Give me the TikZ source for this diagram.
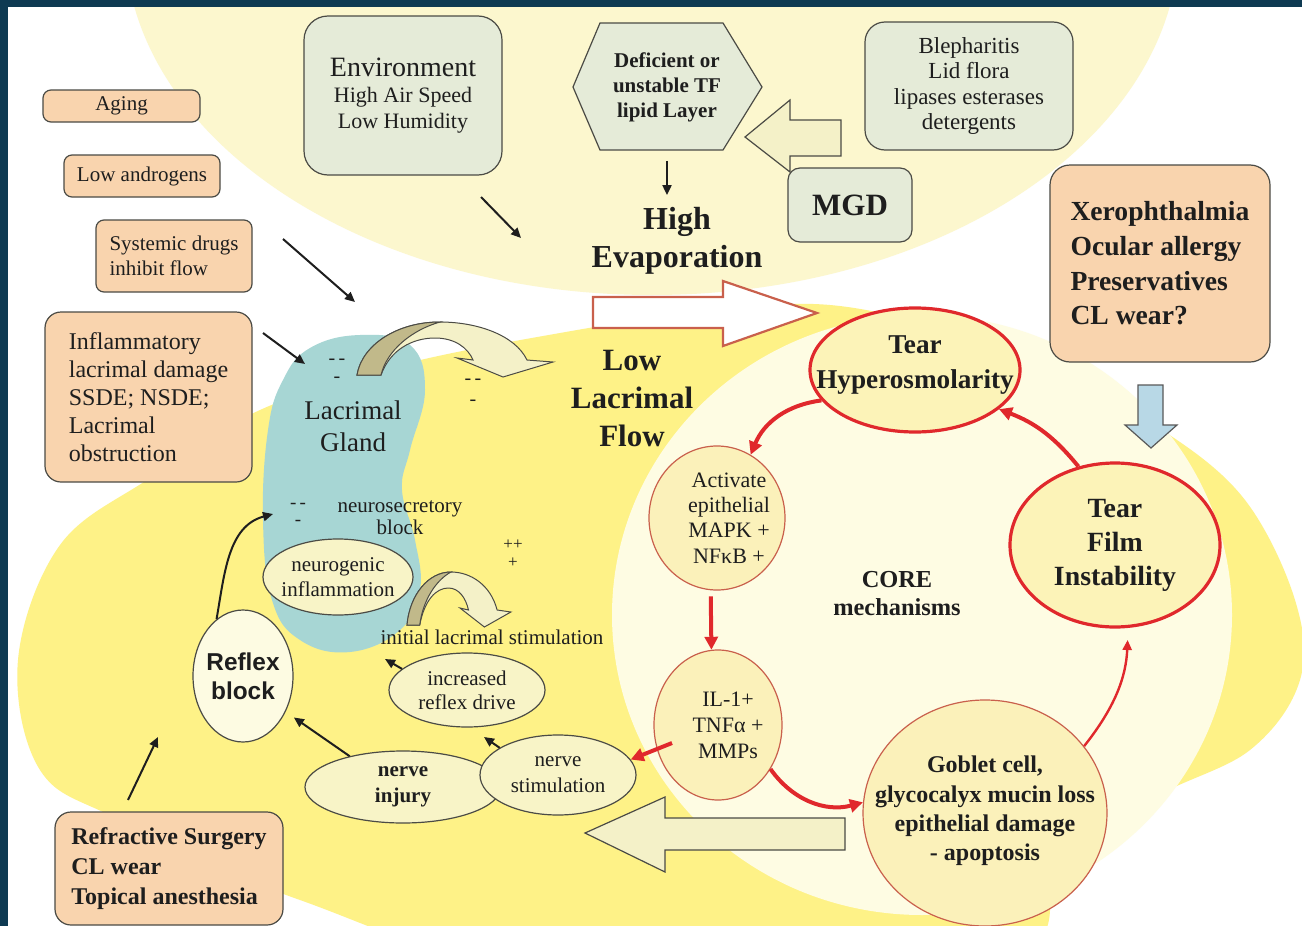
\documentclass[tikz,border=0pt]{standalone}
\usepackage{fontspec}
\setmainfont{Liberation Serif}
\newfontfamily\arialfont{Liberation Sans}
\usetikzlibrary{arrows.meta, shapes.geometric, positioning}
\definecolor{framedark}{HTML}{0E3A52}
\definecolor{evapyellow}{HTML}{FCF7CE}
\definecolor{flowyellow}{HTML}{FEF287}
\definecolor{corecream}{HTML}{FEFCE3}
\definecolor{glandblue}{HTML}{A7D6D4}
\definecolor{peach}{HTML}{F9D4AE}
\definecolor{sage}{HTML}{E5EBD8}
\definecolor{boxline}{HTML}{4B4B45}
\definecolor{corered}{HTML}{E0282C}
\definecolor{softred}{HTML}{C9604C}
\definecolor{ovalfill}{HTML}{F8F4C7}
\definecolor{creamoval}{HTML}{FDFBE2}
\definecolor{corefill}{HTML}{FBF1BA}
\definecolor{hotfill}{HTML}{FCF3B8}
\definecolor{olive}{HTML}{C1B98A}
\definecolor{palearrow}{HTML}{F4F1C8}
\definecolor{skyblue}{HTML}{B8D8E6}
\definecolor{inkdark}{HTML}{1E1E1E}
\newcommand{\fsz}[2]{\fontsize{#1}{#2}\selectfont}
\newcommand{\bentarrow}{%
  \filldraw[draw=boxline, line width=0.5pt, fill=palearrow] (24,0) .. controls (33,25) and (55,37) .. (78,37)
    .. controls (98,37) and (111,27) .. (116,15) -- (100,17) -- (146,-2) -- (196,13) -- (170,15)
    .. controls (158,40) and (120,53) .. (83,53) .. controls (40,53) and (5,30) .. (0,0) -- cycle;
  \filldraw[draw=boxline, line width=0.5pt, fill=olive] (0,0) .. controls (5,30) and (40,53) .. (83,53)
    .. controls (55,45) and (30,25) .. (24,0) -- cycle;}
\tikzset{
  box/.style={draw=boxline, line width=0.6pt, rounded corners=4pt, align=center,
              inner sep=0pt, text=inkdark},
  peachbox/.style={box, fill=peach},
  sagebox/.style={box, fill=sage},
  oval/.style={ellipse, draw=boxline, line width=0.6pt, fill=ovalfill, inner sep=0pt},
  coreoval/.style={ellipse, draw=corered, line width=1.6pt, fill=hotfill, inner sep=0pt},
  softoval/.style={ellipse, draw=softred, line width=0.6pt, fill=corefill, inner sep=0pt},
  lbl/.style={align=center, text=inkdark, inner sep=0pt},
  blk/.style={-{Triangle[length=5pt,width=4.5pt]}, line width=1pt, draw=inkdark},
  redflow/.style={-{Triangle[length=6.5pt,width=6.5pt]}, line width=2pt, draw=corered},
  blockarrow/.style={draw=boxline, line width=0.6pt, fill=palearrow},
}
\begin{document}
\begin{tikzpicture}[x=0.5pt, y=0.5pt]
  \useasboundingbox (0,0) rectangle (1302,-926);
  \fill[white] (0,0) rectangle (1302,-926);

  % backgrounds
  \begin{scope}
    \clip (8,-7) rectangle (1302,-926);
    \fill[evapyellow] (652,60) ellipse [x radius=527, y radius=355];
    \fill[flowyellow] plot[smooth cycle, tension=0.6] coordinates {(18,-660) (60,-545) (150,-478)
      (260,-410) (400,-365) (560,-333) (700,-312) (830,-305) (960,-335) (1070,-385) (1165,-432)
      (1245,-500) (1295,-600) (1300,-680) (1250,-750) (1150,-800) (1060,-870) (1000,-960)
      (600,-990) (300,-900) (120,-820) (40,-770)};
    \fill[corecream] (922,-615) ellipse [x radius=310, y radius=300];
    \fill[glandblue] plot[smooth cycle, tension=0.7] coordinates {(283,-380) (310,-348) (360,-335)
      (410,-345) (425,-390) (410,-450) (402,-490) (415,-540) (420,-590) (400,-630) (350,-652)
      (300,-640) (272,-600) (263,-520) (268,-430)};
  \end{scope}
  \fill[framedark] (0,0) rectangle (1302,-7);
  \fill[framedark] (0,0) rectangle (8,-926);

  % risk factor boxes
  \node[peachbox, minimum width=78.5pt, minimum height=16pt, font=\fsz{10.5}{12}] (aging) at (121.5,-106) {Aging};
  \node[peachbox, minimum width=78pt, minimum height=21pt, font=\fsz{10.5}{12}] (andro) at (142,-176) {Low androgens};
  \node[peachbox, minimum width=78pt, minimum height=36pt, align=left, font=\fsz{10.5}{12.5}] (sysdrug) at (174,-256) {Systemic drugs\\inhibit flow};
  \node[peachbox, minimum width=103.5pt, minimum height=85pt, align=left, rounded corners=8pt, font=\fsz{12}{14}] (inflam) at (148.5,-397) {Inflammatory\\lacrimal damage\\SSDE; NSDE;\\Lacrimal\\obstruction};
  \node[peachbox, minimum width=114pt, minimum height=56.5pt, align=left, rounded corners=8pt, font=\bfseries\fsz{12}{15}] (refsurg) at (169,-868.5) {Refractive Surgery\\CL wear\\Topical anesthesia};
  \node[peachbox, minimum width=110pt, minimum height=98.5pt, align=left, rounded corners=10pt, font=\bfseries\fsz{13.8}{17.3}] (xero) at (1160,-263.5) {Xerophthalmia\\Ocular allergy\\Preservatives\\CL wear?};
  \node[sagebox, minimum width=99pt, minimum height=79.5pt, rounded corners=12pt, font=\fsz{11}{13}] (env) at (403,-95.5) {{\fsz{14}{15}Environment}\\High Air Speed\\Low Humidity};
  \node[sagebox, minimum width=104pt, minimum height=64pt, rounded corners=10pt, font=\fsz{11.5}{12.7}] (bleph) at (969,-86) {Blepharitis\\Lid flora\\lipases esterases\\detergents};
  \node[sagebox, minimum width=62pt, minimum height=37pt, rounded corners=6pt, font=\bfseries\fsz{15.5}{17}] (mgd) at (850,-205) {MGD};

  % lipid layer
  \filldraw[draw=boxline, line width=0.6pt, fill=sage] (573,-87) -- (600,-23) -- (723,-23) -- (762,-87) -- (723,-150) -- (600,-150) -- cycle;
  \node[lbl, font=\bfseries\fsz{10.5}{12.5}, minimum height=63.5pt] (lipid) at (667,-87) {Deficient or\\unstable TF\\lipid Layer};

  % block arrows
  \draw[blockarrow] (841,-120) -- (790,-120) -- (790,-100) -- (745,-137) -- (790,-172) -- (790,-156) -- (841,-156) -- cycle;
  \draw[blockarrow] (845,-818) -- (665,-818) -- (665,-797) -- (585,-833) -- (665,-872) -- (665,-850) -- (845,-850) -- cycle;
  \draw[draw=softred, line width=1.1pt, fill=white] (593,-297) -- (723,-297) -- (723,-281) -- (817,-313) -- (723,-346) -- (723,-328) -- (593,-328) -- cycle;
  \draw[draw=gray!70!black, line width=0.6pt, fill=skyblue] (1138,-385) -- (1163,-385) -- (1163,-425) -- (1177,-425) -- (1151,-448) -- (1125,-425) -- (1138,-425) -- cycle;
  \begin{scope}[shift={(357,-375)}]
    \bentarrow
  \end{scope}
  \begin{scope}[shift={(407,-625)}, xscale=0.53]
    \bentarrow
  \end{scope}

  % free labels
  \node[lbl, font=\bfseries\fsz{16}{19}] (evap) at (677,-241) {High\\Evaporation};
  \node[lbl, font=\bfseries\fsz{15.5}{19}] (lowflow) at (632,-398) {Low\\Lacrimal\\Flow};
  \node[lbl, font=\fsz{13.5}{16}] (gland) at (353,-426) {Lacrimal\\Gland};
  \node[lbl, font=\fsz{10.5}{11}] (nsblock) at (400,-518) {neurosecretory\\block};
  \node[lbl, font=\fsz{10.5}{12}] (initstim) at (492,-637) {initial lacrimal stimulation};
  \node[lbl, font=\bfseries\fsz{12.2}{14}] (core) at (897,-594) {CORE\\mechanisms};
  \node[lbl, font=\fsz{9.5}{8.5}] (markL) at (298,-514) {-\,-\\-};
  \node[lbl, font=\fsz{10}{9}] (markT) at (337,-371) {-\,-\\-};
  \node[lbl, font=\fsz{10}{10.5}] (markR) at (473,-392) {-\,-\\-};
  \node[lbl, font=\fsz{8.5}{9}] (markP) at (513,-554) {++\\+};

  % core mechanisms
  \node[coreoval, minimum width=105pt, minimum height=62pt, label={[lbl, font=\bfseries\fsz{13.6}{17.5}, yshift=2.5pt]center:{Tear\\Hyperosmolarity}}] (hyp) at (915,-370) {};
  \node[coreoval, minimum width=105pt, minimum height=82pt, label={[lbl, font=\bfseries\fsz{13.9}{17}]center:{Tear\\Film\\Instability}}] (tfi) at (1115,-545) {};
  \node[softoval, minimum width=68pt, minimum height=72pt, label={[lbl, font=\fsz{11}{12.7}, xshift=6pt]center:{Activate\\epithelial\\MAPK +\\NFκB +}}] (act) at (717,-518) {};
  \node[softoval, minimum width=64pt, minimum height=75pt, label={[lbl, font=\fsz{11}{13}, xshift=5pt]center:{IL-1+\\TNFα +\\MMPs}}] (il) at (718,-725) {};
  \node[softoval, minimum width=122pt, minimum height=113pt, label={[lbl, font=\bfseries\fsz{12}{14.7}, yshift=1pt]center:{Goblet cell,\\glycocalyx mucin loss\\epithelial damage\\- apoptosis}}] (gob) at (985,-813) {};

  % reflex loop
  \node[oval, fill=creamoval, minimum width=50pt, minimum height=66pt, label={[lbl, font=\arialfont\bfseries\fsz{12.2}{14.5}]center:{Reflex\\block}}] (reflex) at (243,-676) {};
  \node[oval, minimum width=75pt, minimum height=38pt, label={[lbl, font=\fsz{10.5}{12.5}]center:{neurogenic\\inflammation}}] (neuro) at (338,-577) {};
  \node[oval, minimum width=78pt, minimum height=37pt, label={[lbl, font=\fsz{10.5}{12}]center:{increased\\reflex drive}}] (drive) at (467,-690) {};
  \node[oval, minimum width=98pt, minimum height=36pt, label={[lbl, font=\bfseries\fsz{10.5}{13}]center:{nerve\\injury}}] (injury) at (403,-787) {};
  \node[oval, minimum width=78pt, minimum height=40pt, label={[lbl, font=\fsz{10.5}{13}]center:{nerve\\stimulation}}] (nstim) at (558,-775) {};

  % arrow ends
  \coordinate (envTail) at (481,-197);
  \coordinate (envHead) at (521,-238);
  \coordinate (sysTail) at (283,-239);
  \coordinate (sysHead) at (355,-302);
  \coordinate (infTail) at (263,-333);
  \coordinate (infHead) at (305,-364);
  \coordinate (refTail) at (128,-800);
  \coordinate (refHead) at (158,-737);
  \coordinate (glandIn) at (273,-514);
  \coordinate (driveHead) at (385,-659);
  \coordinate (stimHead) at (484,-737);
  \coordinate (ilOut) at (672,-743);

  \draw[blk] (envTail) -- (envHead);
  \draw[blk] (sysTail) -- (sysHead);
  \draw[blk] (infTail) -- (infHead);
  \draw[blk] (refTail) -- (refHead);
  \draw[blk, shorten <=5pt, shorten >=6pt] (lipid.south) -- (lipid.south |- evap.north);
  \draw[blk] (reflex.115) to[out=80, in=195] (glandIn);
  \draw[blk, shorten >=5pt] (injury.150) -- (reflex.-40);
  \draw[blk] (drive.162) -- (driveHead);
  \draw[blk] (nstim.155) -- (stimHead);

  \draw[redflow] (tfi.115) to[bend right=15] (hyp.-25);
  \draw[redflow] (hyp.198) to[bend right=30] (act.62);
  \draw[redflow, shorten <=3pt] (act.265) -- (il.95);
  \draw[redflow] (ilOut) -- (nstim.12);
  \draw[redflow] (il.-40) to[bend right=35] (gob.175);
  \draw[redflow, line width=1.2pt, -{Triangle[length=5pt,width=4.5pt]}, shorten >=6pt] (gob.34) to[bend right=18] (tfi.-81);
\end{tikzpicture}
\end{document}
